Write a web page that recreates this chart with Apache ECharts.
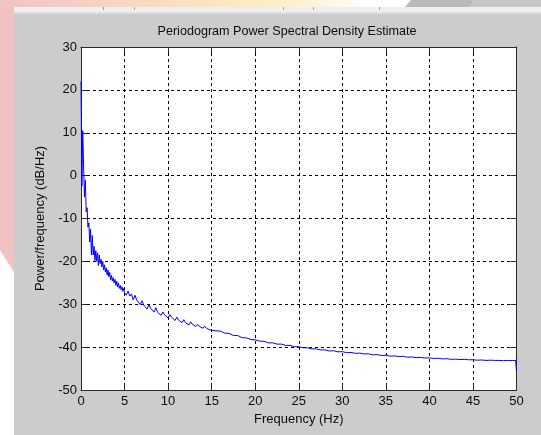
<!DOCTYPE html>
<html>
<head>
<meta charset="utf-8">
<script src="https://cdn.jsdelivr.net/npm/echarts@6/dist/echarts.min.js"></script>
<style>
  html, body { margin: 0; padding: 0; background: #cccccc; }
  #chart { width: 541px; height: 435px; }
</style>
</head>
<body>
<div id="chart"></div>
<script>
// Periodogram PSD estimate: [frequency (Hz), power/frequency (dB/Hz)]
const psdBandLow = [
  [0.0, 22], [0.1, -2.5], [0.2, 10.5], [0.3, 2], [0.4, -5], [0.5, -1],
  [0.6, -8.5], [0.7, -7.5], [0.8, -12], [0.9, -11], [1.0, -15.5], [1.1, -12.5],
  [1.2, -18.5], [1.3, -14], [1.4, -18.5], [1.5, -16.5], [1.6, -19.8], [1.7, -17.5],
  [1.8, -20], [1.9, -18], [2.0, -21], [2.1, -18.5], [2.2, -20.5], [2.3, -19.5],
  [2.4, -21.3], [2.5, -20], [2.6, -22], [2.7, -20.8], [2.8, -22.5], [2.9, -21.5],
  [3.0, -23.2], [3.1, -22], [3.2, -23.6], [3.3, -22.6], [3.4, -24.3], [3.5, -23.3],
  [3.6, -24.6], [3.7, -23.8], [3.8, -25], [3.9, -24.2], [4.0, -25.6], [4.1, -24.6],
  [4.2, -26], [4.3, -25], [4.4, -26.3], [4.5, -25.6], [4.6, -26.6], [4.7, -25.9],
  [4.8, -27], [4.9, -26.3], [5.0, -27.3]
];
const psdBandMid = [
  [5.2, -27.9], [5.4, -26.9], [5.6, -28.1], [5.8, -27.6], [6.0, -29.0], [6.2, -27.9],
  [6.4, -29.0], [6.6, -28.8], [6.8, -30.1], [7.0, -29.2], [7.2, -30.2], [7.4, -29.8],
  [7.6, -31.1], [7.8, -30.1], [8.0, -31.0], [8.2, -30.7], [8.4, -31.8], [8.6, -30.8],
  [8.8, -31.9], [9.0, -31.5], [9.2, -32.6], [9.4, -31.8], [9.6, -32.5], [9.8, -32.2],
  [10.0, -33.2], [10.2, -32.4], [10.4, -33.0], [10.6, -32.9], [10.8, -33.8], [11.0, -33.0],
  [11.2, -33.7], [11.4, -33.5], [11.6, -34.3], [11.8, -33.6], [12.0, -34.3], [12.2, -34.0],
  [12.4, -34.8], [12.6, -34.1], [12.8, -34.7], [13.0, -34.6], [13.2, -35.2], [13.4, -34.7],
  [13.6, -35.2], [13.8, -35.1], [14.0, -35.6], [14.2, -35.1], [14.4, -35.6], [14.6, -35.5],
  [14.8, -36.0], [15.0, -35.6]
];
const psdBandHigh = [
  [15.5, -36.2], [16, -36.25], [16.5, -36.75], [17, -36.8], [17.5, -37.3], [18, -37.3],
  [18.5, -37.8], [19, -37.85], [19.5, -38.2], [20, -38.3], [20.5, -38.6], [21, -38.65],
  [21.5, -39.0], [22, -39.0], [22.5, -39.3], [23, -39.3], [23.5, -39.6], [24, -39.6],
  [24.5, -39.9], [25, -39.9], [25.5, -40.15], [26, -40.15], [26.5, -40.4], [27, -40.4],
  [27.5, -40.65], [28, -40.65], [28.5, -40.9], [29, -40.85], [29.5, -41.1], [30, -41.05],
  [30.5, -41.3], [31, -41.25], [31.5, -41.45], [32, -41.4], [32.5, -41.6], [33, -41.55],
  [33.5, -41.8], [34, -41.75], [34.5, -41.95], [35, -41.9], [35.5, -42.1], [36, -42.05],
  [36.5, -42.2], [37, -42.15], [37.5, -42.35], [38, -42.3], [38.5, -42.45], [39, -42.4],
  [39.5, -42.55], [40, -42.5], [40.5, -42.65], [41, -42.6], [41.5, -42.75], [42, -42.7],
  [42.5, -42.85], [43, -42.8], [43.5, -42.9], [44, -42.85], [44.5, -42.95], [45, -42.95],
  [45.5, -43.05], [46, -43.0], [46.5, -43.1], [47, -43.05], [47.5, -43.1], [48, -43.1],
  [48.5, -43.15], [49, -43.1], [49.5, -43.15], [49.9, -43.1], [50, -45.7]
];

const freqRange = [0, 50];
const freqStep = 5;
const dbRange = [-50, 30];
const dbStep = 10;

const titleText = 'Periodogram Power Spectral Density Estimate';
const xName = 'Frequency (Hz)';
const yName = 'Power/frequency (dB/Hz)';

const psd = psdBandLow.concat(psdBandMid, psdBandHigh);

const FONT = '"Liberation Sans", Arial, sans-serif';
const TXT = '#0d0d0d';
const AXIS = '#2a2a2a';

const chart = echarts.init(document.getElementById('chart'), null, { renderer: 'canvas' });

const gridDash = { type: [3, 3], color: '#000', width: 1 };
const boxLine = { onZero: false, show: true, lineStyle: { color: AXIS, width: 1 } };
const boxTick = { show: true, inside: true, length: 6, lineStyle: { color: AXIS } };

chart.setOption({
  animation: false,
  backgroundColor: '#cccccc',
  graphic: [
    // window chrome around the figure
    { type: 'rect', shape: { x: 0, y: 0, width: 14, height: 435 }, style: { fill: '#ffffff' }, z: -10 },
    { type: 'polygon', shape: { points: [[0, 0], [14, 0], [14, 272], [0, 250]] }, style: { fill: '#f0c2c2' }, z: -9 },
    {
      type: 'rect', shape: { x: 0, y: 0, width: 541, height: 7 }, z: -9,
      style: {
        fill: new echarts.graphic.LinearGradient(0, 0, 1, 0, [
          { offset: 0, color: '#f1c3c3' },
          { offset: 0.28, color: '#f7dbc0' },
          { offset: 0.48, color: '#fcedbf' },
          { offset: 0.62, color: '#fdf7e4' },
          { offset: 0.68, color: '#ffffff' },
          { offset: 1, color: '#ffffff' }
        ])
      }
    },
    { type: 'polygon', shape: { points: [[411, 0], [541, 0], [541, 7], [405, 7]] }, style: { fill: '#b9b9b9' }, z: -8 },
    { type: 'polygon', shape: { points: [[474, 0], [541, 0], [541, 7], [468, 7]] }, style: { fill: '#c6c6c6' }, z: -7 },
    { type: 'rect', shape: { x: 14, y: 7, width: 527, height: 6 }, style: { fill: '#efefef' }, z: -8 },
    { type: 'rect', shape: { x: 14, y: 12, width: 527, height: 2 }, style: { fill: '#dcdcdc' }, z: -8 },
    { type: 'line', shape: { x1: 103.5, y1: 7, x2: 103.5, y2: 10 }, style: { stroke: '#a0a0a0', lineWidth: 1 }, z: -6 },
    { type: 'line', shape: { x1: 134.5, y1: 7, x2: 134.5, y2: 10 }, style: { stroke: '#a0a0a0', lineWidth: 1 }, z: -6 },
    { type: 'line', shape: { x1: 283.5, y1: 7, x2: 283.5, y2: 10 }, style: { stroke: '#a0a0a0', lineWidth: 1 }, z: -6 },
    { type: 'line', shape: { x1: 313.5, y1: 7, x2: 313.5, y2: 10 }, style: { stroke: '#a0a0a0', lineWidth: 1 }, z: -6 },
    { type: 'line', shape: { x1: 379.5, y1: 7, x2: 379.5, y2: 10 }, style: { stroke: '#a0a0a0', lineWidth: 1 }, z: -6 },
    // title
    {
      type: 'text', x: 287, y: 32,
      style: {
        text: titleText, font: '12.6px ' + FONT, fill: TXT,
        textAlign: 'center', textVerticalAlign: 'middle'
      }
    }
  ],
  grid: {
    left: 81, top: 47, right: 24.5, bottom: 45,
    show: true, backgroundColor: '#ffffff', borderWidth: 0
  },
  xAxis: [
    {
      type: 'value', min: freqRange[0], max: freqRange[1], interval: freqStep,
      position: 'bottom',
      name: xName, nameLocation: 'middle', nameGap: 23,
      nameTextStyle: { fontFamily: FONT, fontSize: 13, color: TXT },
      axisLine: boxLine,
      axisTick: boxTick,
      axisLabel: { fontFamily: FONT, fontSize: 13, color: TXT, margin: 5 },
      splitLine: { show: true, lineStyle: gridDash }
    },
    {
      type: 'value', min: freqRange[0], max: freqRange[1], interval: freqStep,
      position: 'top',
      axisLine: boxLine,
      axisTick: boxTick,
      axisLabel: { show: false },
      splitLine: { show: false }
    }
  ],
  yAxis: [
    {
      type: 'value', min: dbRange[0], max: dbRange[1], interval: dbStep,
      position: 'left',
      name: yName, nameLocation: 'middle', nameGap: 33,
      nameTextStyle: { fontFamily: FONT, fontSize: 13, color: TXT },
      axisLine: boxLine,
      axisTick: boxTick,
      axisLabel: { fontFamily: FONT, fontSize: 13, color: TXT, margin: 4 },
      splitLine: { show: true, lineStyle: gridDash }
    },
    {
      type: 'value', min: dbRange[0], max: dbRange[1], interval: dbStep,
      position: 'right',
      axisLine: boxLine,
      axisTick: boxTick,
      axisLabel: { show: false },
      splitLine: { show: false }
    }
  ],
  series: [
    {
      type: 'line',
      xAxisIndex: 0, yAxisIndex: 0,
      data: psd,
      showSymbol: false,
      symbol: 'none',
      lineStyle: { color: '#0000ff', width: 1 },
      z: 3
    }
  ]
});
</script>
</body>
</html>
